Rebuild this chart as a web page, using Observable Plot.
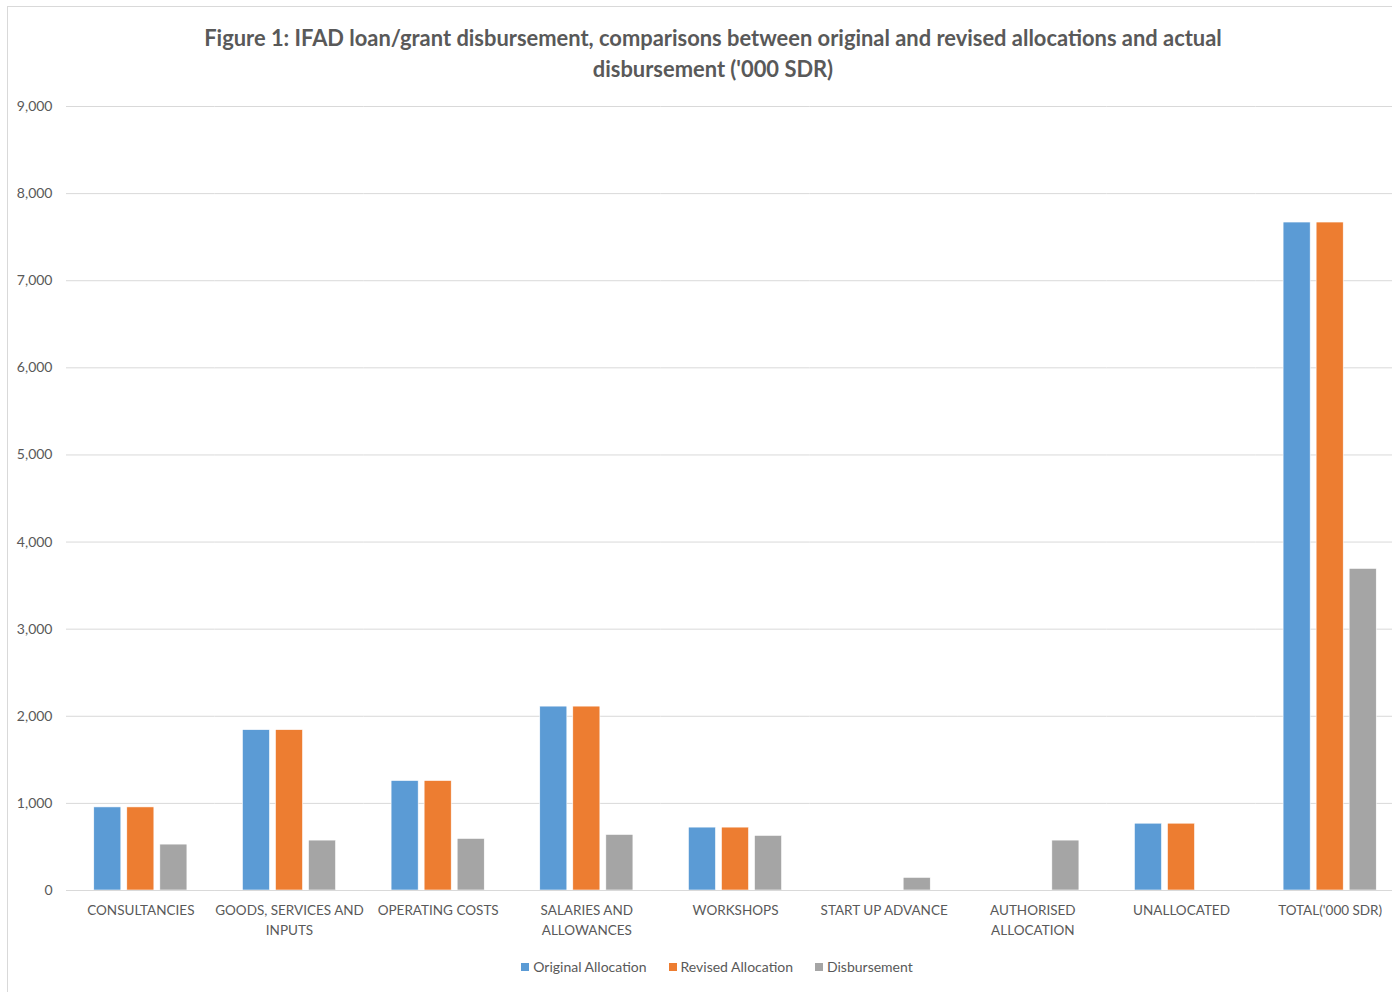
<!DOCTYPE html>
<html>
<head>
<meta charset="utf-8">
<script src="https://cdn.jsdelivr.net/npm/d3@7"></script>
<script src="https://cdn.jsdelivr.net/npm/@observablehq/plot@0.6"></script>
<style>
  html, body { margin: 0; padding: 0; background: #fff; }
  body { width: 1392px; height: 992px; position: relative; overflow: hidden;
         font-family: Lato, "Open Sans", sans-serif; color: #595959; }
  #frame { position: absolute; left: 7px; top: 6px; width: 1400px; height: 1000px;
           border-left: 1px solid #d9d9d9; border-top: 1px solid #d9d9d9; }
  #title { position: absolute; left: 0; top: 22px; width: 1426px; text-align: center;
           font-size: 21.9px; font-weight: bold; line-height: 31px; color: #595959; }
  #chart { position: absolute; left: 0; top: 90px; }
  #chart svg { max-width: none !important; }
  #legend { position: absolute; left: 0; top: 958px; width: 1434px; display: flex;
            justify-content: center; gap: 22px; font-size: 14px; color: #595959; }
  #legend span.item { display: inline-flex; align-items: center; }
  #legend span.sw { display: inline-block; width: 8px; height: 8px; margin-right: 4px; }
</style>
</head>
<body>
<div id="frame"></div>
<div id="title">Figure 1: IFAD loan/grant disbursement, comparisons between original and revised allocations and actual<br>disbursement ('000 SDR)</div>
<div id="chart"></div>
<div id="legend"></div>
<script>
const categories = ["CONSULTANCIES", "GOODS, SERVICES AND INPUTS", "OPERATING COSTS", "SALARIES AND ALLOWANCES",
  "WORKSHOPS", "START UP ADVANCE", "AUTHORISED ALLOCATION", "UNALLOCATED", "TOTAL('000 SDR)"];
const tickLabels = ["CONSULTANCIES", "GOODS, SERVICES AND\nINPUTS", "OPERATING COSTS", "SALARIES AND\nALLOWANCES",
  "WORKSHOPS", "START UP ADVANCE", "AUTHORISED\nALLOCATION", "UNALLOCATED", "TOTAL('000 SDR)"];
const series = ["Original Allocation", "Revised Allocation", "Disbursement"];
const originalAllocation = [954, 1841, 1257, 2111, 722, 0, 0, 767, 7668];
const revisedAllocation  = [954, 1841, 1257, 2111, 722, 0, 0, 767, 7668];
const disbursement       = [527, 573, 592, 638, 627, 145, 573, 0, 3692];
const colors = ["#5B9BD5", "#ED7D31", "#A5A5A5"];
const yTicks = [0, 1000, 2000, 3000, 4000, 5000, 6000, 7000, 8000, 9000];

const valuesBySeries = [originalAllocation, revisedAllocation, disbursement];
const data = [];
categories.forEach((c, i) => {
  series.forEach((s, j) => data.push({category: c, series: s, value: valuesBySeries[j][i]}));
});

const chart = Plot.plot({
  width: 1404,
  height: 860,
  marginLeft: 66,
  marginRight: 0,
  marginTop: 16,
  marginBottom: 60,
  style: {fontFamily: 'Lato, "Open Sans", sans-serif', fontSize: "14px", color: "#595959", background: "transparent", overflow: "visible", maxWidth: "none"},
  fx: {domain: categories, padding: 0, round: false, label: null},
  x: {domain: series, paddingInner: 0.18, paddingOuter: 0.84, round: false, axis: null},
  y: {domain: [0, 9000], label: null},
  color: {domain: series, range: colors},
  marks: [
    Plot.gridY(yTicks, {stroke: "#d9d9d9", strokeOpacity: 1, strokeWidth: 1}),
    Plot.axisY(yTicks, {tickSize: 0, tickPadding: 14, tickFormat: d3.format(","), label: null, fill: "#595959", fontSize: 14}),
    Plot.barY(data, {fx: "category", x: "series", y: "value", fill: "series", stroke: "white", strokeWidth: 0.6}),
    Plot.ruleY([0], {stroke: "#d9d9d9", strokeWidth: 1}),
    Plot.axisFx({anchor: "bottom", tickSize: 0, tickPadding: 10, label: null, lineHeight: 1.5, fill: "#595959", fontSize: 13.5,
      tickFormat: d => tickLabels[categories.indexOf(d)]})
  ]
});
document.getElementById("chart").appendChild(chart);

const legend = document.getElementById("legend");
series.forEach((s, j) => {
  const item = document.createElement("span");
  item.className = "item";
  const sw = document.createElement("span");
  sw.className = "sw";
  sw.style.background = colors[j];
  item.appendChild(sw);
  item.appendChild(document.createTextNode(s));
  legend.appendChild(item);
});
</script>
</body>
</html>
